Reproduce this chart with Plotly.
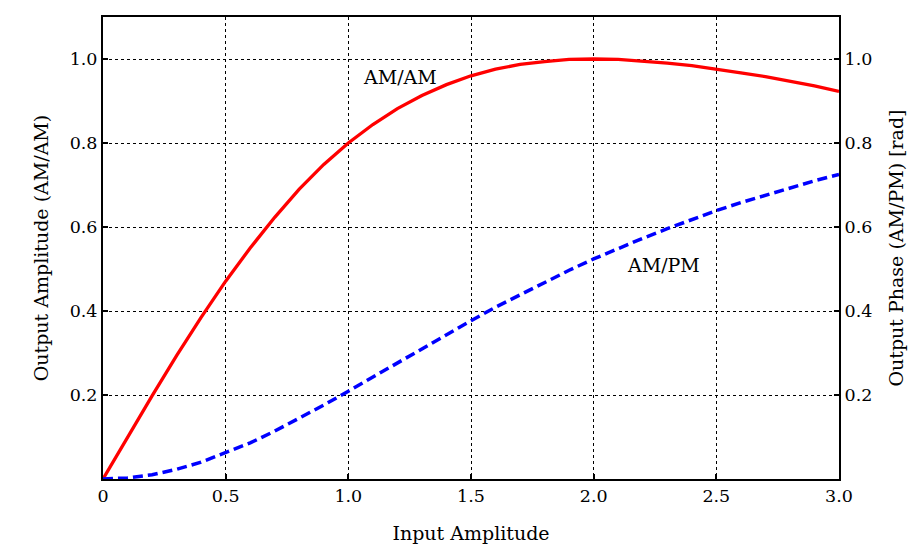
import plotly.graph_objects as go

# Input amplitude samples
x_vals = [0.0, 0.1, 0.2, 0.3, 0.4, 0.5, 0.6, 0.7, 0.8, 0.9, 1.0,
          1.1, 1.2, 1.3, 1.4, 1.5, 1.6, 1.7, 1.8, 1.9, 2.0,
          2.1, 2.2, 2.3, 2.4, 2.5, 2.6, 2.7, 2.8, 2.9, 3.0]

# AM/AM output amplitude
am_am = [0.0, 0.0998, 0.198, 0.294, 0.385, 0.471, 0.550, 0.623, 0.690, 0.749, 0.800,
         0.844, 0.882, 0.913, 0.939, 0.960, 0.976, 0.987, 0.994, 0.999, 1.000,
         0.999, 0.995, 0.990, 0.984, 0.976, 0.967, 0.958, 0.947, 0.936, 0.923]

# AM/PM output phase [rad]
am_pm = [0.0, 0.0026, 0.010, 0.023, 0.040, 0.062, 0.086, 0.114, 0.144, 0.176, 0.209,
         0.243, 0.277, 0.311, 0.345, 0.377, 0.409, 0.439, 0.469, 0.497, 0.524,
         0.549, 0.573, 0.596, 0.618, 0.639, 0.658, 0.676, 0.693, 0.710, 0.725]

x_ticks = [0, 0.5, 1.0, 1.5, 2.0, 2.5, 3.0]
x_tick_text = ["0", "0.5", "1.0", "1.5", "2.0", "2.5", "3.0"]
y_ticks = [0.2, 0.4, 0.6, 0.8, 1.0]
y_tick_text = ["0.2", "0.4", "0.6", "0.8", "1.0"]

FONT = "DejaVu Serif"
TICK_SIZE = 17.5
TITLE_SIZE = 19

fig = go.Figure()
fig.add_trace(go.Scatter(x=x_vals, y=am_am, mode="lines", name="AM/AM",
                         line=dict(color="#ff0000", width=3.3), yaxis="y"))
fig.add_trace(go.Scatter(x=x_vals, y=am_pm, mode="lines", name="AM/PM",
                         line=dict(color="#0000ff", width=3.5, dash="10px,5px"), yaxis="y2"))

axis_common = dict(
    showline=True, linecolor="black", linewidth=2,
    ticks="inside", ticklen=5, tickcolor="black", tickwidth=1.5,
    zeroline=False,
    tickfont=dict(family=FONT, size=TICK_SIZE, color="black"),
)
grid = dict(showgrid=True, gridcolor="black", gridwidth=1, griddash="3px,3px")

fig.update_layout(
    width=924, height=559,
    margin=dict(l=103, r=85, t=17, b=80),
    plot_bgcolor="white", paper_bgcolor="white",
    showlegend=False,
    font=dict(family=FONT, color="black"),
    xaxis=dict(range=[0, 3.0], tickvals=x_ticks, ticktext=x_tick_text, mirror=True,
               title=dict(text="Input Amplitude", font=dict(family=FONT, size=TITLE_SIZE), standoff=22),
               **axis_common, **grid),
    yaxis=dict(range=[0, 1.1], tickvals=y_ticks, ticktext=y_tick_text,
               title=dict(text="Output Amplitude (AM/AM)", font=dict(family=FONT, size=TITLE_SIZE), standoff=16),
               **axis_common, **grid),
    yaxis2=dict(range=[0, 1.1], tickvals=y_ticks, ticktext=y_tick_text, overlaying="y", side="right",
                showgrid=False,
                title=dict(text="Output Phase (AM/PM) [rad]", font=dict(family=FONT, size=TITLE_SIZE), standoff=18),
                **axis_common),
)

fig.add_annotation(x=1.21, y=0.956, xref="x", yref="y", text="AM/AM", showarrow=False,
                   font=dict(family=FONT, size=TITLE_SIZE, color="black"))
fig.add_annotation(x=2.284, y=0.509, xref="x", yref="y", text="AM/PM", showarrow=False,
                   font=dict(family=FONT, size=TITLE_SIZE, color="black"))

fig.write_html("out.html")
